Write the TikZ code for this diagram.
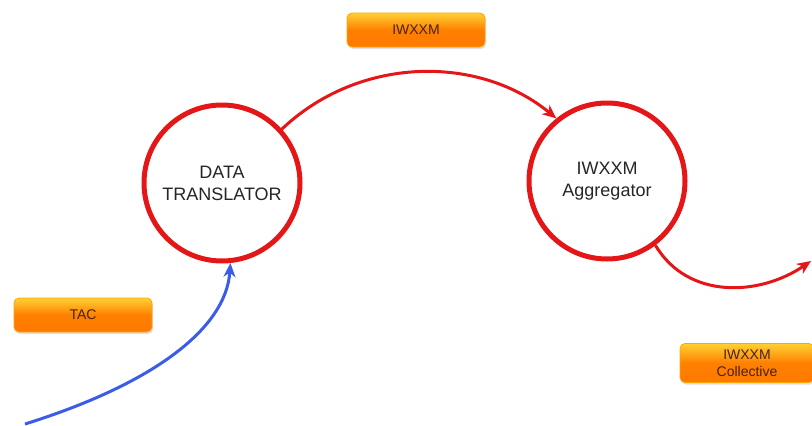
\documentclass[tikz,border=0pt]{standalone}
\usepackage{fontspec}
\setmainfont{Liberation Sans}
\usetikzlibrary{arrows.meta,shadows}
\definecolor{flowred}{RGB}{228,22,24}
\definecolor{flowblue}{RGB}{58,92,232}
\definecolor{boxtext}{RGB}{70,35,10}
\begin{document}
\begin{tikzpicture}[x=1pt,y=-1pt,
           circle_style/.style={circle,draw=flowred,line width=5pt,fill=white,minimum size=156pt,align=center,font=\fontsize{18}{22}\selectfont,text=black!85},
           label_style/.style={rectangle,rounded corners=5pt,draw=orange!70!yellow,line width=0.8pt,top color=orange!45!yellow!80,bottom color=orange!95!red,middle color=orange,minimum width=138pt,minimum height=34pt,inner sep=2pt,align=center,font=\fontsize{14}{17}\selectfont,text=boxtext,drop shadow={opacity=0.25,shadow xshift=1pt,shadow yshift=-2pt}},
           red_edge/.style={draw=flowred,line width=3pt,-{Stealth[length=14pt,width=12pt]}},
           blue_edge/.style={draw=flowblue,line width=3pt,-{Stealth[length=14pt,width=12pt]}}]
            \useasboundingbox (0,0) rectangle (812,426);
            \node[circle_style] (dt) at (222,183) {DATA\\TRANSLATOR};
            \node[circle_style] (agg) at (607,181) {IWXXM\\Aggregator};
            \node[label_style] (lab_iwxxm) at (416,30) {IWXXM};
            \node[label_style] (lab_tac) at (83,315) {TAC};
            \node[label_style,minimum width=134pt,minimum height=39pt] (lab_coll) at (747,363) {IWXXM\\Collective};
            \coordinate (src) at (25,424);
            \coordinate (sink) at (811,261);
            \draw[blue_edge] (src) .. controls (150,385) and (226,330) .. (dt.-84);
            \draw[red_edge] (dt.42) .. controls (360,55) and (480,55) .. (agg.129);
            \draw[red_edge] (agg.-53) .. controls (688,300) and (760,296) .. (sink);
        \end{tikzpicture}
\end{document}
